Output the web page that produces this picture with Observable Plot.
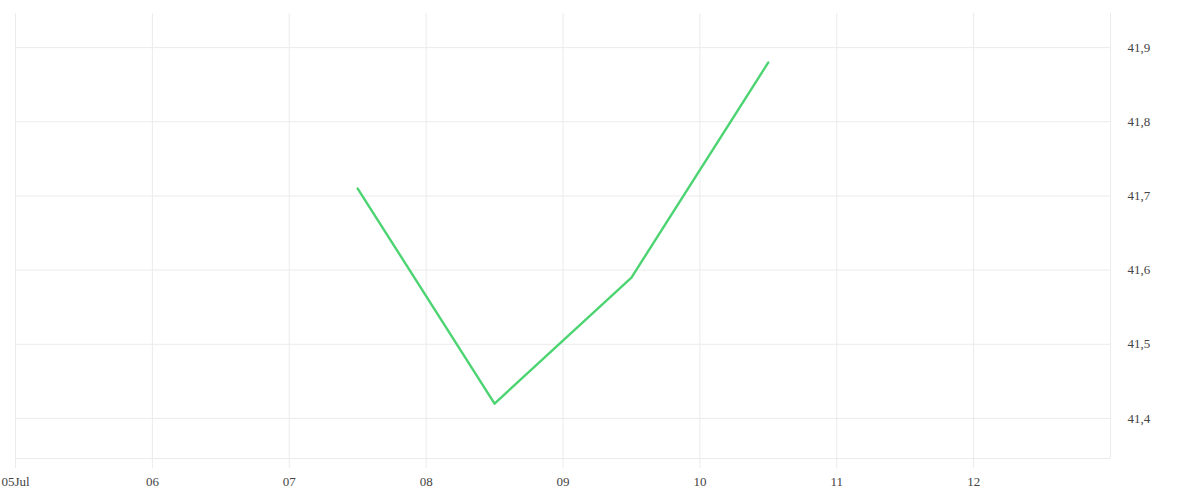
<!DOCTYPE html>
<html>
<head>
<meta charset="utf-8">
<script src="https://cdn.jsdelivr.net/npm/d3@7"></script>
<script src="https://cdn.jsdelivr.net/npm/@observablehq/plot@0.6"></script>
<style>
  html, body { margin: 0; padding: 0; background: #fff; }
  #chart { width: 1200px; height: 500px; }
</style>
</head>
<body>
<div id="chart"></div>
<script>
// Data
const dates = ["2023-07-07T12:00Z", "2023-07-08T12:00Z", "2023-07-09T12:00Z", "2023-07-10T12:00Z"];
const values = [41.71, 41.42, 41.59, 41.88];
const xDomain = ["2023-07-05T00:00Z", "2023-07-13T00:00Z"];
const yDomain = [41.346, 41.946];
const xTicks = ["2023-07-05", "2023-07-06", "2023-07-07", "2023-07-08", "2023-07-09", "2023-07-10", "2023-07-11", "2023-07-12"];
const yTicks = [41.4, 41.5, 41.6, 41.7, 41.8, 41.9];

const data = dates.map((d, i) => ({date: new Date(d), value: values[i]}));
const xt = xTicks.map(d => new Date(d + "T00:00Z"));
const xd = xDomain.map(d => new Date(d));

const gridColor = "#ebebeb";
const textColor = "#444";

const chart = Plot.plot({
  width: 1200,
  height: 500,
  marginLeft: 15,
  marginRight: 90,
  marginTop: 13,
  marginBottom: 42,
  style: {fontFamily: "'Liberation Serif', serif", fontSize: "13px", background: "#fff"},
  x: {type: "utc", domain: xd},
  y: {domain: yDomain},
  marks: [
    Plot.gridX(xt, {stroke: gridColor, strokeOpacity: 1}),
    Plot.gridY(yTicks, {stroke: gridColor, strokeOpacity: 1}),
    Plot.ruleY([yDomain[0]], {stroke: gridColor}),
    Plot.ruleX([xd[1]], {stroke: gridColor}),
    Plot.axisX(xt, {
      tickSize: 10, tickPadding: 8, stroke: gridColor, strokeOpacity: 1, fill: textColor,
      tickFormat: (d, i) => i === 0 ? d3.utcFormat("%d")(d) + "Jul" : d3.utcFormat("%d")(d),
      label: null
    }),
    Plot.axisY(yTicks, {
      anchor: "right", tickSize: 0, tickPadding: 17, textAnchor: "start", fill: textColor,
      tickFormat: d => d.toFixed(1).replace(".", ","),
      label: null
    }),
    Plot.line(data, {x: "date", y: "value", stroke: "#4dd472", strokeWidth: 2.4})
  ]
});
document.getElementById("chart").appendChild(chart);
</script>
</body>
</html>
